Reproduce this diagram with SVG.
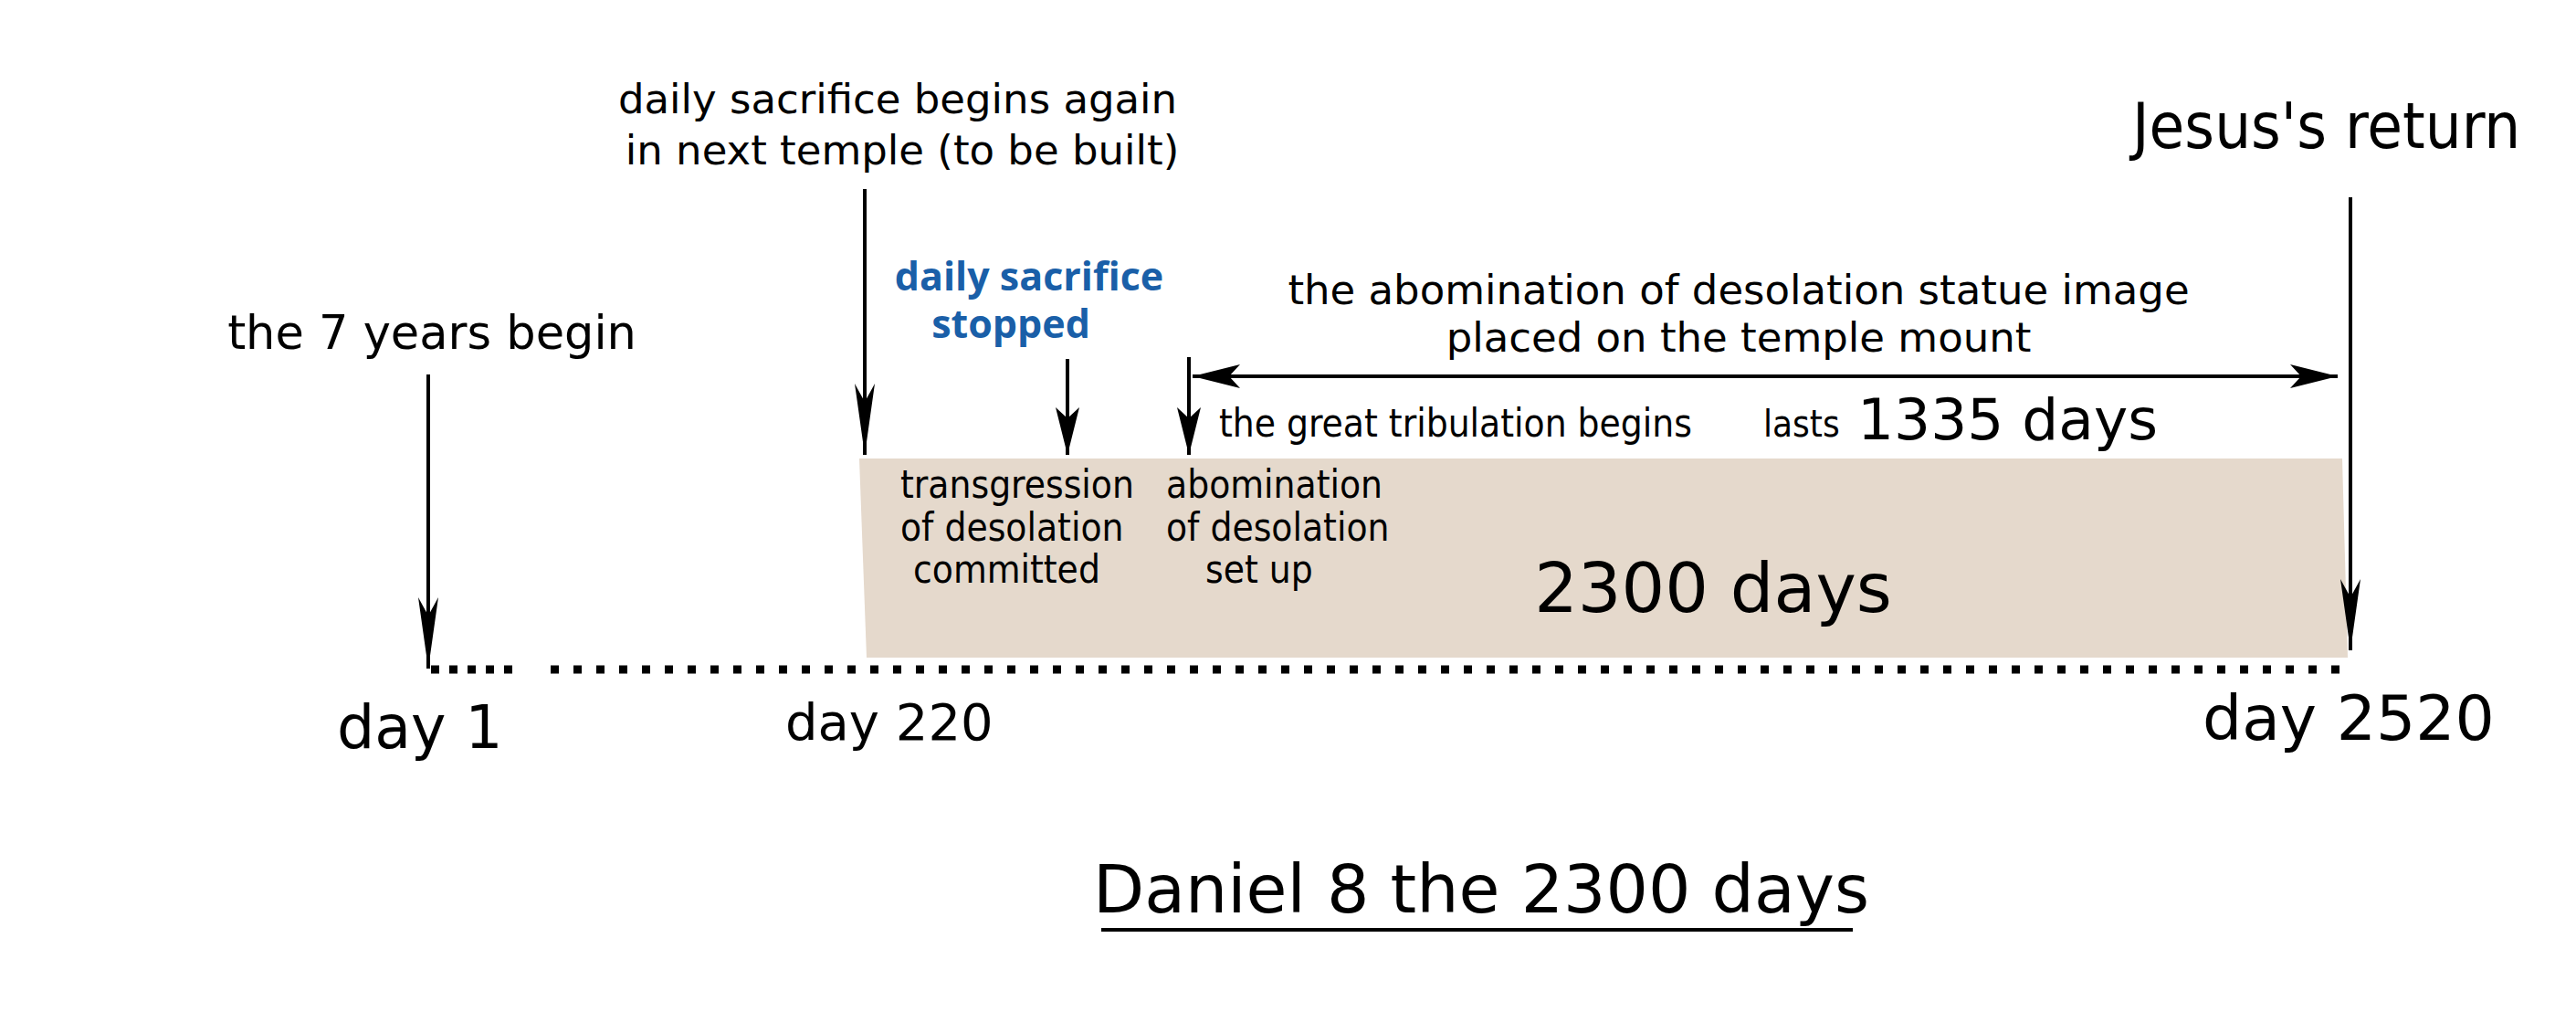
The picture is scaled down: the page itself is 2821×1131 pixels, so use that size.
<svg xmlns="http://www.w3.org/2000/svg" width="2821" height="1131" viewBox="0 0 2821 1131">
<defs>
<style>
text{font-family:"DejaVu Sans","Liberation Sans",sans-serif;fill:#000}
.c{font-family:"DejaVu Sans Condensed","DejaVu Sans",sans-serif}
.ln{stroke:#000;stroke-width:4;fill:none}
.blue{fill:#1a5fa8;font-family:"Open Sans","DejaVu Sans",sans-serif;font-weight:bold}
</style>
<marker id="ah" markerUnits="userSpaceOnUse" markerWidth="100" markerHeight="40" viewBox="-80 -20 100 40" refX="0" refY="0" orient="auto">
<path d="M0,0 L-78,-11 L-58,0 L-78,11 Z" fill="#000"/>
</marker>
<marker id="as" markerUnits="userSpaceOnUse" markerWidth="80" markerHeight="40" viewBox="-60 -20 80 40" refX="0" refY="0" orient="auto-start-reverse">
<path d="M0,0 L-52,-13 L-40,0 L-52,13 Z" fill="#000"/>
</marker>
</defs>
<rect width="2821" height="1131" fill="#fff"/>
<g id="period">
<path d="M941,502 L2565,502 L2571,720 L949,720 Z" fill="#e5d9cc"/>
<text x="1876" y="670" font-size="75" text-anchor="middle">2300 days</text>
</g>
<g id="timeline">
<line x1="472" y1="733" x2="572" y2="733" stroke="#000" stroke-width="9" stroke-dasharray="9 11"/>
<line x1="603" y1="733" x2="2578" y2="733" stroke="#000" stroke-width="9" stroke-dasharray="9 16"/>
</g>
<g id="connectors">
<line class="ln" x1="469" y1="410" x2="469" y2="732" marker-end="url(#ah)"/>
<line class="ln" x1="947" y1="207" x2="947" y2="498" marker-end="url(#ah)"/>
<line class="ln" x1="1169" y1="393" x2="1169" y2="498" marker-end="url(#as)"/>
<line class="ln" x1="1302" y1="391" x2="1302" y2="498" marker-end="url(#as)"/>
<line class="ln" x1="1306" y1="412" x2="2560" y2="412" marker-start="url(#as)" marker-end="url(#as)" stroke-width="5"/>
<line class="ln" x1="2574" y1="216" x2="2574" y2="712" stroke-width="5" marker-end="url(#ah)"/>
</g>
<g id="day1"><text x="369" y="819" font-size="65">day 1</text><text x="473" y="382" font-size="51" text-anchor="middle">the 7 years begin</text></g>
<g id="day220"><text x="860" y="810" font-size="56">day 220</text>
<text x="983" y="124" font-size="45" text-anchor="middle">daily sacrifice begins again</text>
<text x="988" y="180" font-size="45" text-anchor="middle">in next temple (to be built)</text></g>
<g id="stopped"><text class="blue" x="1127" y="318" font-size="43" text-anchor="middle">daily sacrifice</text>
<text class="blue" x="1107" y="370" font-size="43" text-anchor="middle">stopped</text>
<text class="c" x="986" y="545" font-size="42">transgression</text>
<text class="c" x="986" y="592" font-size="42">of desolation</text>
<text class="c" x="1000" y="638" font-size="42">committed</text></g>
<g id="abomination"><text class="c" x="1277" y="545" font-size="42">abomination</text>
<text class="c" x="1277" y="592" font-size="42">of desolation</text>
<text class="c" x="1320" y="638" font-size="42">set up</text>
<text class="c" x="1335" y="478" font-size="42">the great tribulation begins</text></g>
<g id="statue"><text x="1904" y="333" font-size="45" text-anchor="middle">the abomination of desolation statue image</text>
<text x="1904" y="385" font-size="45" text-anchor="middle">placed on the temple mount</text>
<text class="c" x="1931" y="478" font-size="40">lasts</text>
<text x="2034" y="481" font-size="63">1335 days</text></g>
<g id="return"><text class="c" x="2335" y="162" font-size="70">Jesus's return</text>
<text x="2412" y="810" font-size="68">day 2520</text></g>
<g id="title"><text x="1622" y="999" font-size="73" text-anchor="middle">Daniel 8 the 2300 days</text>
<line x1="1206" y1="1018" x2="2029" y2="1018" stroke="#000" stroke-width="4"/></g>
</svg>
